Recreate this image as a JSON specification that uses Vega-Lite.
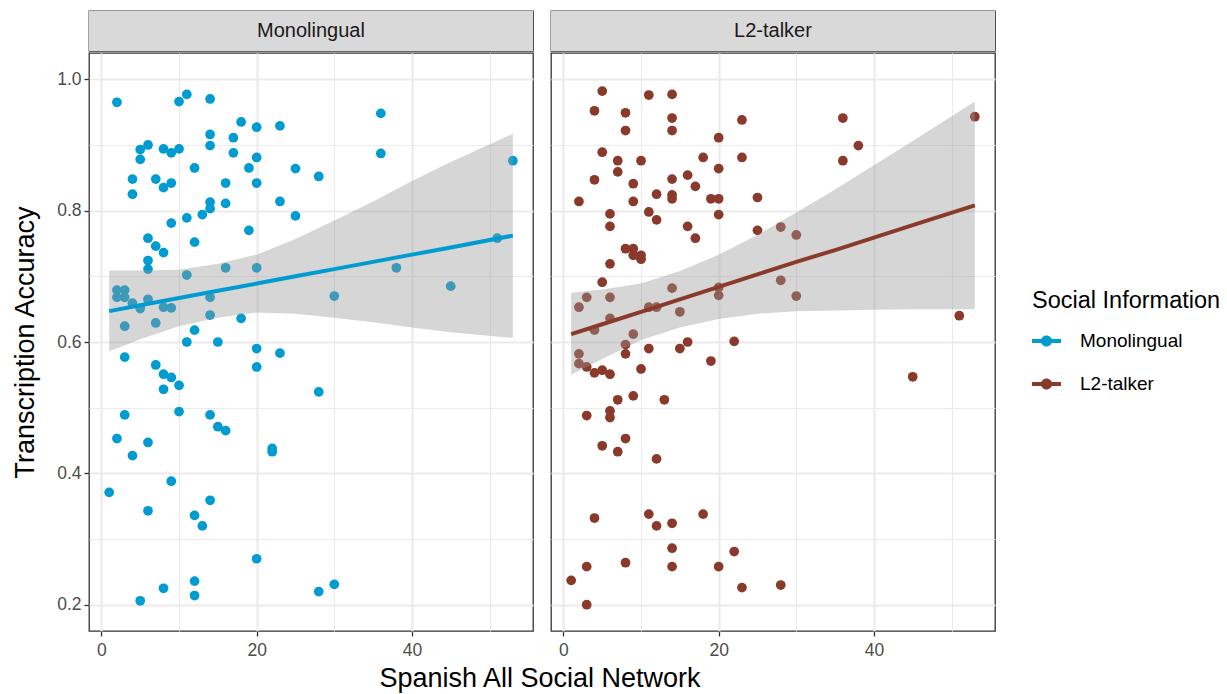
{
  "$schema": "https://vega.github.io/schema/vega-lite/v6.json",
  "padding": {"left": 11, "top": 10, "right": 0, "bottom": 0},
  "autosize": {"type": "pad"},
  "title": {"text": "Spanish All Social Network", "orient": "bottom", "anchor": "start", "frame": "group", "align": "center", "dx": 451, "offset": 7,
            "fontSize": 27, "fontWeight": "normal", "font": "Liberation Sans", "color": "#000000"},
  "config": {
    "font": "Liberation Sans",
    "view": {"stroke": "#333333", "strokeWidth": 1.3},
    "axis": {
      "labelFont": "Liberation Sans", "labelFontSize": 17.5, "labelColor": "#4D4D4D",
      "titleFont": "Liberation Sans", "titleFontSize": 27, "titleFontWeight": "normal", "titleColor": "#000000",
      "tickColor": "#333333", "tickSize": 5, "tickWidth": 1.3, "domain": false, "labelPadding": 3,
      "gridColor": "#EBEBEB"
    },
    "legend": {"padding": 0}
  },
  "datasets": {
    "pts": [
      {"info":"Monolingual","network":2,"accuracy":0.965},{"info":"Monolingual","network":10,"accuracy":0.966},{"info":"Monolingual","network":11,"accuracy":0.977},{"info":"Monolingual","network":14,"accuracy":0.970},{"info":"Monolingual","network":18,"accuracy":0.935},{"info":"Monolingual","network":20,"accuracy":0.927},{"info":"Monolingual","network":23,"accuracy":0.929},{"info":"Monolingual","network":14,"accuracy":0.916},{"info":"Monolingual","network":14,"accuracy":0.899},{"info":"Monolingual","network":17,"accuracy":0.911},{"info":"Monolingual","network":17,"accuracy":0.888},{"info":"Monolingual","network":20,"accuracy":0.881},{"info":"Monolingual","network":19,"accuracy":0.865},{"info":"Monolingual","network":25,"accuracy":0.864},{"info":"Monolingual","network":28,"accuracy":0.852},{"info":"Monolingual","network":5,"accuracy":0.893},{"info":"Monolingual","network":6,"accuracy":0.900},{"info":"Monolingual","network":5,"accuracy":0.878},{"info":"Monolingual","network":8,"accuracy":0.894},{"info":"Monolingual","network":9,"accuracy":0.888},{"info":"Monolingual","network":10,"accuracy":0.894},{"info":"Monolingual","network":12,"accuracy":0.865},{"info":"Monolingual","network":4,"accuracy":0.848},{"info":"Monolingual","network":4,"accuracy":0.825},{"info":"Monolingual","network":7,"accuracy":0.848},{"info":"Monolingual","network":8,"accuracy":0.835},{"info":"Monolingual","network":9,"accuracy":0.842},{"info":"Monolingual","network":16,"accuracy":0.842},{"info":"Monolingual","network":20,"accuracy":0.842},{"info":"Monolingual","network":16,"accuracy":0.811},{"info":"Monolingual","network":23,"accuracy":0.814},{"info":"Monolingual","network":25,"accuracy":0.792},{"info":"Monolingual","network":14,"accuracy":0.813},{"info":"Monolingual","network":14,"accuracy":0.803},{"info":"Monolingual","network":13,"accuracy":0.794},{"info":"Monolingual","network":11,"accuracy":0.789},{"info":"Monolingual","network":9,"accuracy":0.781},{"info":"Monolingual","network":19,"accuracy":0.770},{"info":"Monolingual","network":6,"accuracy":0.758},{"info":"Monolingual","network":7,"accuracy":0.746},{"info":"Monolingual","network":8,"accuracy":0.736},{"info":"Monolingual","network":12,"accuracy":0.752},{"info":"Monolingual","network":6,"accuracy":0.724},{"info":"Monolingual","network":6,"accuracy":0.711},{"info":"Monolingual","network":11,"accuracy":0.702},{"info":"Monolingual","network":16,"accuracy":0.713},{"info":"Monolingual","network":20,"accuracy":0.713},{"info":"Monolingual","network":2,"accuracy":0.679},{"info":"Monolingual","network":3,"accuracy":0.679},{"info":"Monolingual","network":2,"accuracy":0.668},{"info":"Monolingual","network":3,"accuracy":0.668},{"info":"Monolingual","network":14,"accuracy":0.668},{"info":"Monolingual","network":4,"accuracy":0.659},{"info":"Monolingual","network":5,"accuracy":0.651},{"info":"Monolingual","network":6,"accuracy":0.665},{"info":"Monolingual","network":8,"accuracy":0.653},{"info":"Monolingual","network":9,"accuracy":0.652},{"info":"Monolingual","network":14,"accuracy":0.641},{"info":"Monolingual","network":18,"accuracy":0.636},{"info":"Monolingual","network":3,"accuracy":0.624},{"info":"Monolingual","network":7,"accuracy":0.629},{"info":"Monolingual","network":12,"accuracy":0.618},{"info":"Monolingual","network":11,"accuracy":0.600},{"info":"Monolingual","network":15,"accuracy":0.600},{"info":"Monolingual","network":20,"accuracy":0.590},{"info":"Monolingual","network":23,"accuracy":0.583},{"info":"Monolingual","network":3,"accuracy":0.577},{"info":"Monolingual","network":20,"accuracy":0.562},{"info":"Monolingual","network":7,"accuracy":0.565},{"info":"Monolingual","network":8,"accuracy":0.551},{"info":"Monolingual","network":9,"accuracy":0.546},{"info":"Monolingual","network":8,"accuracy":0.528},{"info":"Monolingual","network":10,"accuracy":0.534},{"info":"Monolingual","network":28,"accuracy":0.524},{"info":"Monolingual","network":10,"accuracy":0.494},{"info":"Monolingual","network":14,"accuracy":0.489},{"info":"Monolingual","network":15,"accuracy":0.471},{"info":"Monolingual","network":16,"accuracy":0.465},{"info":"Monolingual","network":3,"accuracy":0.489},{"info":"Monolingual","network":2,"accuracy":0.453},{"info":"Monolingual","network":6,"accuracy":0.447},{"info":"Monolingual","network":4,"accuracy":0.427},{"info":"Monolingual","network":22,"accuracy":0.438},{"info":"Monolingual","network":22,"accuracy":0.433},{"info":"Monolingual","network":9,"accuracy":0.388},{"info":"Monolingual","network":1,"accuracy":0.371},{"info":"Monolingual","network":14,"accuracy":0.359},{"info":"Monolingual","network":6,"accuracy":0.343},{"info":"Monolingual","network":12,"accuracy":0.336},{"info":"Monolingual","network":13,"accuracy":0.320},{"info":"Monolingual","network":20,"accuracy":0.270},{"info":"Monolingual","network":12,"accuracy":0.236},{"info":"Monolingual","network":8,"accuracy":0.225},{"info":"Monolingual","network":12,"accuracy":0.214},{"info":"Monolingual","network":5,"accuracy":0.206},{"info":"Monolingual","network":28,"accuracy":0.220},{"info":"Monolingual","network":36,"accuracy":0.948},{"info":"Monolingual","network":36,"accuracy":0.887},{"info":"Monolingual","network":53,"accuracy":0.876},{"info":"Monolingual","network":51,"accuracy":0.758},{"info":"Monolingual","network":38,"accuracy":0.713},{"info":"Monolingual","network":30,"accuracy":0.670},{"info":"Monolingual","network":45,"accuracy":0.685},{"info":"Monolingual","network":30,"accuracy":0.231},
      {"info":"L2-talker","network":5,"accuracy":0.982},{"info":"L2-talker","network":4,"accuracy":0.952},{"info":"L2-talker","network":8,"accuracy":0.949},{"info":"L2-talker","network":8,"accuracy":0.922},{"info":"L2-talker","network":11,"accuracy":0.976},{"info":"L2-talker","network":14,"accuracy":0.977},{"info":"L2-talker","network":14,"accuracy":0.941},{"info":"L2-talker","network":14,"accuracy":0.922},{"info":"L2-talker","network":23,"accuracy":0.938},{"info":"L2-talker","network":20,"accuracy":0.911},{"info":"L2-talker","network":5,"accuracy":0.889},{"info":"L2-talker","network":7,"accuracy":0.876},{"info":"L2-talker","network":10,"accuracy":0.876},{"info":"L2-talker","network":7,"accuracy":0.859},{"info":"L2-talker","network":18,"accuracy":0.881},{"info":"L2-talker","network":23,"accuracy":0.881},{"info":"L2-talker","network":20,"accuracy":0.864},{"info":"L2-talker","network":4,"accuracy":0.847},{"info":"L2-talker","network":9,"accuracy":0.841},{"info":"L2-talker","network":14,"accuracy":0.848},{"info":"L2-talker","network":16,"accuracy":0.854},{"info":"L2-talker","network":17,"accuracy":0.837},{"info":"L2-talker","network":25,"accuracy":0.820},{"info":"L2-talker","network":2,"accuracy":0.814},{"info":"L2-talker","network":9,"accuracy":0.814},{"info":"L2-talker","network":12,"accuracy":0.825},{"info":"L2-talker","network":14,"accuracy":0.824},{"info":"L2-talker","network":14,"accuracy":0.818},{"info":"L2-talker","network":19,"accuracy":0.818},{"info":"L2-talker","network":20,"accuracy":0.818},{"info":"L2-talker","network":20,"accuracy":0.794},{"info":"L2-talker","network":6,"accuracy":0.795},{"info":"L2-talker","network":6,"accuracy":0.776},{"info":"L2-talker","network":11,"accuracy":0.798},{"info":"L2-talker","network":12,"accuracy":0.786},{"info":"L2-talker","network":16,"accuracy":0.776},{"info":"L2-talker","network":17,"accuracy":0.758},{"info":"L2-talker","network":25,"accuracy":0.770},{"info":"L2-talker","network":8,"accuracy":0.742},{"info":"L2-talker","network":9,"accuracy":0.742},{"info":"L2-talker","network":9,"accuracy":0.732},{"info":"L2-talker","network":10,"accuracy":0.732},{"info":"L2-talker","network":10,"accuracy":0.726},{"info":"L2-talker","network":6,"accuracy":0.719},{"info":"L2-talker","network":5,"accuracy":0.691},{"info":"L2-talker","network":36,"accuracy":0.941},{"info":"L2-talker","network":38,"accuracy":0.899},{"info":"L2-talker","network":36,"accuracy":0.876},{"info":"L2-talker","network":53,"accuracy":0.943},{"info":"L2-talker","network":28,"accuracy":0.775},{"info":"L2-talker","network":30,"accuracy":0.763},{"info":"L2-talker","network":28,"accuracy":0.694},{"info":"L2-talker","network":30,"accuracy":0.670},{"info":"L2-talker","network":51,"accuracy":0.640},{"info":"L2-talker","network":45,"accuracy":0.547},{"info":"L2-talker","network":28,"accuracy":0.230},{"info":"L2-talker","network":2,"accuracy":0.653},{"info":"L2-talker","network":3,"accuracy":0.668},{"info":"L2-talker","network":6,"accuracy":0.668},{"info":"L2-talker","network":14,"accuracy":0.682},{"info":"L2-talker","network":20,"accuracy":0.683},{"info":"L2-talker","network":20,"accuracy":0.671},{"info":"L2-talker","network":6,"accuracy":0.636},{"info":"L2-talker","network":4,"accuracy":0.618},{"info":"L2-talker","network":11,"accuracy":0.653},{"info":"L2-talker","network":12,"accuracy":0.653},{"info":"L2-talker","network":15,"accuracy":0.646},{"info":"L2-talker","network":9,"accuracy":0.612},{"info":"L2-talker","network":8,"accuracy":0.596},{"info":"L2-talker","network":2,"accuracy":0.582},{"info":"L2-talker","network":2,"accuracy":0.567},{"info":"L2-talker","network":3,"accuracy":0.562},{"info":"L2-talker","network":4,"accuracy":0.553},{"info":"L2-talker","network":5,"accuracy":0.557},{"info":"L2-talker","network":6,"accuracy":0.551},{"info":"L2-talker","network":8,"accuracy":0.582},{"info":"L2-talker","network":11,"accuracy":0.590},{"info":"L2-talker","network":15,"accuracy":0.590},{"info":"L2-talker","network":16,"accuracy":0.600},{"info":"L2-talker","network":22,"accuracy":0.601},{"info":"L2-talker","network":19,"accuracy":0.571},{"info":"L2-talker","network":10,"accuracy":0.559},{"info":"L2-talker","network":7,"accuracy":0.512},{"info":"L2-talker","network":9,"accuracy":0.518},{"info":"L2-talker","network":13,"accuracy":0.512},{"info":"L2-talker","network":3,"accuracy":0.488},{"info":"L2-talker","network":6,"accuracy":0.495},{"info":"L2-talker","network":6,"accuracy":0.485},{"info":"L2-talker","network":8,"accuracy":0.453},{"info":"L2-talker","network":5,"accuracy":0.442},{"info":"L2-talker","network":7,"accuracy":0.433},{"info":"L2-talker","network":12,"accuracy":0.422},{"info":"L2-talker","network":4,"accuracy":0.332},{"info":"L2-talker","network":11,"accuracy":0.338},{"info":"L2-talker","network":12,"accuracy":0.320},{"info":"L2-talker","network":14,"accuracy":0.324},{"info":"L2-talker","network":18,"accuracy":0.338},{"info":"L2-talker","network":14,"accuracy":0.286},{"info":"L2-talker","network":22,"accuracy":0.281},{"info":"L2-talker","network":3,"accuracy":0.258},{"info":"L2-talker","network":8,"accuracy":0.264},{"info":"L2-talker","network":14,"accuracy":0.258},{"info":"L2-talker","network":20,"accuracy":0.258},{"info":"L2-talker","network":1,"accuracy":0.237},{"info":"L2-talker","network":23,"accuracy":0.226},{"info":"L2-talker","network":3,"accuracy":0.200}
    ],
    "fit": [
      {"info":"Monolingual","network":1,"fit":0.647,"lo":0.586,"hi":0.709},
      {"info":"Monolingual","network":5,"fit":0.656,"lo":0.604,"hi":0.709},
      {"info":"Monolingual","network":10,"fit":0.667,"lo":0.624,"hi":0.710},
      {"info":"Monolingual","network":15,"fit":0.678,"lo":0.637,"hi":0.719},
      {"info":"Monolingual","network":20,"fit":0.689,"lo":0.645,"hi":0.733},
      {"info":"Monolingual","network":25,"fit":0.700,"lo":0.643,"hi":0.757},
      {"info":"Monolingual","network":30,"fit":0.711,"lo":0.637,"hi":0.785},
      {"info":"Monolingual","network":35,"fit":0.722,"lo":0.630,"hi":0.814},
      {"info":"Monolingual","network":40,"fit":0.733,"lo":0.622,"hi":0.845},
      {"info":"Monolingual","network":45,"fit":0.744,"lo":0.615,"hi":0.874},
      {"info":"Monolingual","network":53,"fit":0.762,"lo":0.606,"hi":0.917},
      {"info":"L2-talker","network":1,"fit":0.612,"lo":0.550,"hi":0.675},
      {"info":"L2-talker","network":5,"fit":0.627,"lo":0.574,"hi":0.680},
      {"info":"L2-talker","network":10,"fit":0.646,"lo":0.603,"hi":0.689},
      {"info":"L2-talker","network":15,"fit":0.665,"lo":0.622,"hi":0.708},
      {"info":"L2-talker","network":20,"fit":0.684,"lo":0.635,"hi":0.733},
      {"info":"L2-talker","network":25,"fit":0.703,"lo":0.643,"hi":0.763},
      {"info":"L2-talker","network":30,"fit":0.722,"lo":0.647,"hi":0.797},
      {"info":"L2-talker","network":35,"fit":0.740,"lo":0.648,"hi":0.832},
      {"info":"L2-talker","network":40,"fit":0.759,"lo":0.649,"hi":0.869},
      {"info":"L2-talker","network":45,"fit":0.778,"lo":0.650,"hi":0.906},
      {"info":"L2-talker","network":53,"fit":0.808,"lo":0.650,"hi":0.966}
    ]
  },
  "resolve": {"scale": {"color": "shared", "x": "independent", "y": "independent"}},
  "spacing": 16,
  "hconcat": [
    {
      "spacing": 0,
      "resolve": {"scale": {"x": "independent", "y": "independent"}},
      "vconcat": [
        {
          "width": 444, "height": 40,
          "data": {"values": [{"label": "Monolingual"}]},
          "layer": [
            {"mark": {"type": "rect", "fill": "#D9D9D9"},
             "encoding": {"x": {"field": "label", "type": "nominal", "axis": null, "scale": {"paddingInner": 0, "paddingOuter": 0}}}},
            {"mark": {"type": "text", "fontSize": 20, "color": "#1A1A1A", "font": "Liberation Sans"},
             "encoding": {"x": {"field": "label", "type": "nominal", "axis": null, "scale": {"paddingInner": 0, "paddingOuter": 0}}, "text": {"field": "label"}}}
          ]
        },
        {
          "width": 444, "height": 578,
          "layer": [
            {
              "data": {"name": "pts"},
              "transform": [{"filter": "datum.info === 'Monolingual'"}],
              "mark": {"type": "point", "filled": true, "size": 95, "opacity": 1},
              "encoding": {
                "x": {"field": "network", "type": "quantitative", "scale": {"domain": [-1.6, 55.6], "nice": false, "zero": false},
                      "axis": {"title": null, "labelPadding": 5, "values": [0,10,20,30,40,50], "format": "d",
                               "labelExpr": "datum.value % 20 === 0 ? datum.label : ''",
                               "tickOpacity": {"condition": {"test": "datum.value % 20 !== 0", "value": 0}, "value": 1},
                               "gridWidth": {"condition": {"test": "datum.value % 20 === 0", "value": 2.2}, "value": 1.1}}},
                "y": {"field": "accuracy", "type": "quantitative", "scale": {"domain": [0.16, 1.04], "nice": false, "zero": false},
                      "axis": {"title": "Transcription Accuracy", "titlePadding": 17, "values": [0.2,0.3,0.4,0.5,0.6,0.7,0.8,0.9,1.0],
                               "labelExpr": "round(datum.value*10) % 2 === 0 ? format(datum.value, '.1f') : ''",
                               "tickOpacity": {"condition": {"test": "round(datum.value*10) % 2 !== 0", "value": 0}, "value": 1},
                               "gridWidth": {"condition": {"test": "round(datum.value*10) % 2 === 0", "value": 2.2}, "value": 1.1}}},
                "color": {"field": "info", "type": "nominal",
                          "scale": {"domain": ["Monolingual", "L2-talker"], "range": ["#009BD0", "#8A3A2B"]},
                          "legend": {"title": "Social Information", "orient": "none", "legendX": 943, "legendY": 278,
                                     "symbolType": "M-1,-0.14H1V0.14H-1Z M-0.38,0A0.38,0.38 0 1,1 0.38,0A0.38,0.38 0 1,1 -0.38,0Z",
                                     "symbolSize": 841, "symbolStrokeWidth": 0, "labelFontSize": 19, "labelFont": "Liberation Sans",
                                     "titleFontSize": 23.5, "titleFont": "Liberation Sans", "titleFontWeight": "normal", "labelColor": "#000000", "titleColor": "#000000",
                                     "rowPadding": 18, "labelOffset": 19, "titlePadding": 14, "titleLimit": 300, "labelLimit": 200}}
              }
            },
            {
              "data": {"name": "fit"},
              "transform": [{"filter": "datum.info === 'Monolingual'"}],
              "mark": {"type": "area", "color": "#999999", "opacity": 0.4},
              "encoding": {
                "x": {"field": "network", "type": "quantitative"},
                "y": {"field": "lo", "type": "quantitative", "title": "Transcription Accuracy"},
                "y2": {"field": "hi"}
              }
            },
            {
              "data": {"name": "fit"},
              "transform": [{"filter": "datum.info === 'Monolingual'"}],
              "mark": {"type": "line", "strokeWidth": 4},
              "encoding": {
                "x": {"field": "network", "type": "quantitative"},
                "y": {"field": "fit", "type": "quantitative", "title": "Transcription Accuracy"},
                "color": {"field": "info", "type": "nominal", "legend": null}
              }
            }
          ]
        }
      ]
    },
    {
      "spacing": 0,
      "resolve": {"scale": {"x": "independent", "y": "independent"}},
      "vconcat": [
        {
          "width": 444, "height": 40,
          "data": {"values": [{"label": "L2-talker"}]},
          "layer": [
            {"mark": {"type": "rect", "fill": "#D9D9D9"},
             "encoding": {"x": {"field": "label", "type": "nominal", "axis": null, "scale": {"paddingInner": 0, "paddingOuter": 0}}}},
            {"mark": {"type": "text", "fontSize": 20, "color": "#1A1A1A", "font": "Liberation Sans"},
             "encoding": {"x": {"field": "label", "type": "nominal", "axis": null, "scale": {"paddingInner": 0, "paddingOuter": 0}}, "text": {"field": "label"}}}
          ]
        },
        {
          "width": 444, "height": 578,
          "layer": [
            {
              "data": {"name": "pts"},
              "transform": [{"filter": "datum.info === 'L2-talker'"}],
              "mark": {"type": "point", "filled": true, "size": 95, "opacity": 1},
              "encoding": {
                "x": {"field": "network", "type": "quantitative", "scale": {"domain": [-1.6, 55.6], "nice": false, "zero": false},
                      "axis": {"title": null, "labelPadding": 5, "values": [0,10,20,30,40,50], "format": "d",
                               "labelExpr": "datum.value % 20 === 0 ? datum.label : ''",
                               "tickOpacity": {"condition": {"test": "datum.value % 20 !== 0", "value": 0}, "value": 1},
                               "gridWidth": {"condition": {"test": "datum.value % 20 === 0", "value": 2.2}, "value": 1.1}}},
                "y": {"field": "accuracy", "type": "quantitative", "scale": {"domain": [0.16, 1.04], "nice": false, "zero": false},
                      "axis": {"title": null, "labels": false, "ticks": false, "values": [0.2,0.3,0.4,0.5,0.6,0.7,0.8,0.9,1.0],
                               "gridWidth": {"condition": {"test": "round(datum.value*10) % 2 === 0", "value": 2.2}, "value": 1.1}}},
                "color": {"field": "info", "type": "nominal",
                          "scale": {"domain": ["Monolingual", "L2-talker"], "range": ["#009BD0", "#8A3A2B"]},
                          "legend": {"title": "Social Information", "orient": "none", "legendX": 943, "legendY": 278,
                                     "symbolType": "M-1,-0.14H1V0.14H-1Z M-0.38,0A0.38,0.38 0 1,1 0.38,0A0.38,0.38 0 1,1 -0.38,0Z",
                                     "symbolSize": 841, "symbolStrokeWidth": 0, "labelFontSize": 19, "labelFont": "Liberation Sans",
                                     "titleFontSize": 23.5, "titleFont": "Liberation Sans", "titleFontWeight": "normal", "labelColor": "#000000", "titleColor": "#000000",
                                     "rowPadding": 18, "labelOffset": 19, "titlePadding": 14, "titleLimit": 300, "labelLimit": 200}}
              }
            },
            {
              "data": {"name": "fit"},
              "transform": [{"filter": "datum.info === 'L2-talker'"}],
              "mark": {"type": "area", "color": "#999999", "opacity": 0.4},
              "encoding": {
                "x": {"field": "network", "type": "quantitative"},
                "y": {"field": "lo", "type": "quantitative", "title": null},
                "y2": {"field": "hi"}
              }
            },
            {
              "data": {"name": "fit"},
              "transform": [{"filter": "datum.info === 'L2-talker'"}],
              "mark": {"type": "line", "strokeWidth": 4},
              "encoding": {
                "x": {"field": "network", "type": "quantitative"},
                "y": {"field": "fit", "type": "quantitative", "title": null},
                "color": {"field": "info", "type": "nominal", "legend": null}
              }
            }
          ]
        }
      ]
    }
  ]
}
